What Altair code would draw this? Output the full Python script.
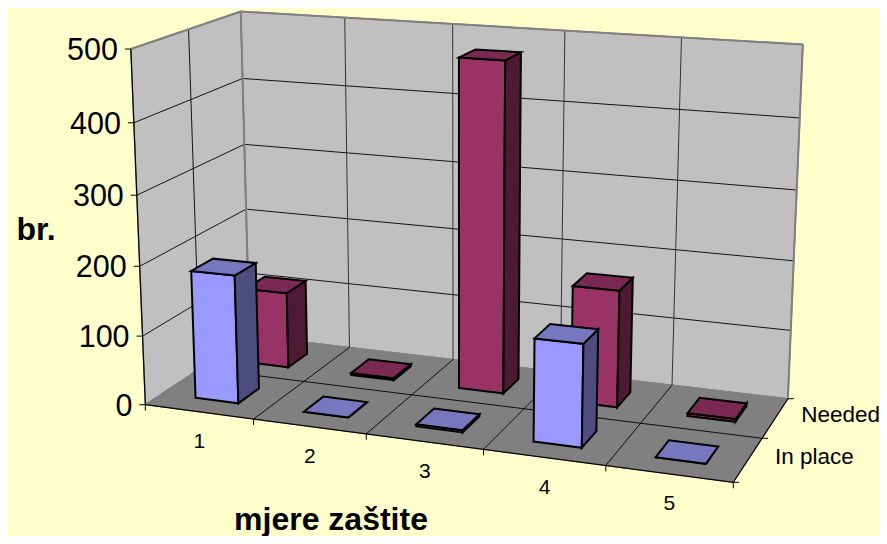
import numpy as np
import altair as alt

categories = ["1", "2", "3", "4", "5"]
series = ["In place", "Needed"]
in_place = [185, 0, 3, 143, 0]
needed = [113, 3, 475, 168, 4]
y_ticks = [0, 100, 200, 300, 400, 500]

# Camera: corners of the chart box (category, series, value) -> page pixel
box_3d = [(0, 0, 0), (5, 0, 0), (5, 2, 0), (0, 2, 0), (0, 0, 500), (0, 2, 500), (5, 2, 500)]
box_px = [(145, 405.5), (733, 482), (788, 399), (250, 335), (131.5, 48.5), (240, 12), (803, 44.5)]
OFF = 8  # page margin
W, H = 871, 528

A = []
for (X, Y, Z), (px, py) in zip(box_3d, box_px):
    A.append([X, Y, Z, 1, 0, 0, 0, 0, -px * X, -px * Y, -px * Z, -px])
    A.append([0, 0, 0, 0, X, Y, Z, 1, -py * X, -py * Y, -py * Z, -py])
P = np.linalg.svd(np.array(A, float))[2][-1].reshape(3, 4)


def proj(u, v, w):
    a = P @ np.array([u, v, w, 1.0])
    return [float(a[0] / a[2]) - OFF, float(a[1] / a[2]) - OFF]


features = []


def poly(pts, fill, stroke, sw, layer):
    c = [proj(*p) for p in pts]
    c.append(c[0])
    features.append({"type": "Feature", "geometry": {"type": "Polygon", "coordinates": [c]},
                     "properties": {"fill": fill, "stroke": stroke, "sw": sw, "layer": layer}})


def line(a, b, stroke, sw, layer, da=(0, 0), db=(0, 0)):
    p, q = proj(*a), proj(*b)
    c = [[p[0] + da[0], p[1] + da[1]], [q[0] + db[0], q[1] + db[1]]]
    features.append({"type": "Feature", "geometry": {"type": "LineString", "coordinates": c},
                     "properties": {"fill": "none", "stroke": stroke, "sw": sw, "layer": layer}})


GREY = "#808080"
WALL = "#c0c0c0"
BLK = "#000000"
poly([(0, 0, 0), (0, 2, 0), (0, 2, 500), (0, 0, 500)], WALL, GREY, 1.5, 0)
poly([(0, 2, 0), (5, 2, 0), (5, 2, 500), (0, 2, 500)], WALL, GREY, 1.5, 0)
poly([(0, 0, 0), (5, 0, 0), (5, 2, 0), (0, 2, 0)], GREY, GREY, 1, 0)
for t in y_ticks[1:-1]:
    line((0, 0, t), (0, 2, t), BLK, 0.9, 0)
    line((0, 2, t), (5, 2, t), BLK, 0.9, 0)
line((0, 1, 0), (0, 1, 500), BLK, 0.9, 0)
for i in range(1, 5):
    line((i, 2, 0), (i, 2, 500), "#333333", 1, 0)
    line((i, 0, 0), (i, 2, 0), BLK, 0.9, 0)
line((0, 1, 0), (5, 1, 0), BLK, 0.9, 0)
# redraw box seams
line((0, 2, 0), (0, 2, 500), GREY, 2, 0)
line((5, 2, 0), (5, 2, 500), GREY, 2, 0)
line((0, 0, 500), (0, 2, 500), GREY, 2, 0)
line((0, 2, 500), (5, 2, 500), GREY, 2, 0)
# axes
line((0, 0, 0), (0, 0, 500), BLK, 1.2, 0)
line((0, 0, 0), (5, 0, 0), BLK, 1.2, 0)
line((5, 0, 0), (5, 2, 0), BLK, 1.2, 0)
for t in y_ticks:
    line((0, 0, t), (0, 0, t), BLK, 1, 0, da=(-6, 0))
for i in range(6):
    line((i, 0, 0), (i, 0, 0), BLK, 1, 0, db=(0, 6))
for j in range(3):
    line((5, j, 0), (5, j, 0), BLK, 1, 0, db=(6, 0))

FRONT = [("#9999ff", "#7777c0", "#4d4d80"), ("#993366", "#7a2952", "#4d1933")]
HW_U, HW_V = 0.2, 0.2
for j, vals in [(1, needed), (0, in_place)]:
    vc = j + 0.5
    for i, val in enumerate(vals):
        uc = i + 0.515
        f, t, s = FRONT[j]
        u0, u1, v0, v1 = uc - HW_U, uc + HW_U, vc - HW_V, vc + HW_V
        poly([(u0, v0, 0), (u1, v0, 0), (u1, v0, val), (u0, v0, val)], f, BLK, 2, 1)
        poly([(u1, v0, 0), (u1, v1, 0), (u1, v1, val), (u1, v0, val)], s, BLK, 2, 1)
        poly([(u0, v0, val), (u1, v0, val), (u1, v1, val), (u0, v1, val)], t, BLK, 2, 1)

for k, f in enumerate(features):
    f["properties"]["order"] = k

shapes = alt.Chart(alt.Data(values=features, format=alt.DataFormat(type="json"))).mark_geoshape(
    strokeJoin="miter"
).encode(
    fill=alt.Fill("properties.fill:N", scale=None),
    stroke=alt.Stroke("properties.stroke:N", scale=None),
    strokeWidth=alt.StrokeWidth("properties.sw:Q", scale=None),
    order=alt.Order("properties.order:Q"),
).project(type="identity", scale=1, translate=[0, 0])

FONT = "Liberation Sans"
labels = []
for t in y_ticks:
    p = proj(0, 0, t)
    labels.append({"t": str(t), "x": p[0] - 13, "y": p[1] + 2, "s": 30.5, "a": "right", "b": "normal"})
for i, c in enumerate(categories):
    p = proj(i + 0.5, 0, 0)
    labels.append({"t": c, "x": p[0] + 0.5, "y": p[1] + 30.5, "s": 21, "a": "center", "b": "normal"})
for j, c in enumerate(series):
    p = proj(5, j + 0.5, 0)
    labels.append({"t": c, "x": p[0] + 27 - j, "y": p[1] - 3, "s": 22.5, "a": "left", "b": "normal"})
labels.append({"t": "br.", "x": 36 - OFF, "y": 230 - OFF, "s": 32, "a": "center", "b": "bold"})
labels.append({"t": "mjere zaštite", "x": 331 - OFF, "y": 520 - OFF, "s": 32, "a": "center", "b": "bold"})


def text_layer(align, weight):
    rows = [r for r in labels if r["a"] == align and r["b"] == weight]
    return alt.Chart(alt.Data(values=rows)).mark_text(
        font=FONT, align=align, baseline="middle", fontWeight=weight, color="#000000"
    ).encode(
        x=alt.X("x:Q", scale=None),
        y=alt.Y("y:Q", scale=None),
        text="t:N",
        size=alt.Size("s:Q", scale=None),
    )


chart = alt.layer(
    shapes,
    text_layer("right", "normal"),
    text_layer("center", "normal"),
    text_layer("left", "normal"),
    text_layer("center", "bold"),
).properties(
    width=W, height=H, background="#ffffcc", padding=0,
    autosize=alt.AutoSizeParams(type="none"),
).configure_view(stroke=None)

chart.save("out.html", embed_options={"renderer": "svg", "actions": False})
